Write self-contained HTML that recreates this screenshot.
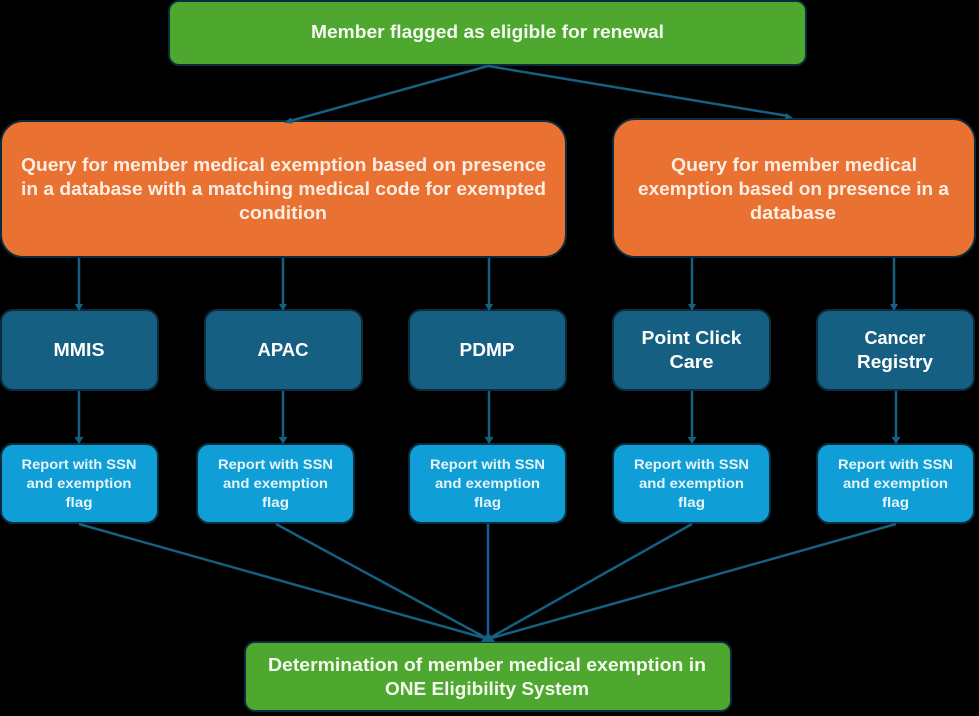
<!DOCTYPE html>
<html>
<head>
<meta charset="utf-8">
<style>
html,body{margin:0;padding:0;background:#000;width:979px;height:716px;overflow:hidden}
svg{display:block}
text{font-family:"Liberation Sans",sans-serif;font-weight:700;fill:#fff;text-anchor:middle}
.o{fill:#fdeee3;font-size:18px}
.d{font-size:18px}
.r{font-size:14px;fill:#e6f5fb}
.g{font-size:18px;fill:#f4faef}
.box{stroke:#0b2c3c;stroke-width:2}
.l{stroke:#156082;stroke-width:2.500;fill:none}
.a{fill:#156082}
</style>
</head>
<body>
<svg width="979" height="716" viewBox="0 0 979 716" xmlns="http://www.w3.org/2000/svg">
<rect width="979" height="716" fill="#000"/>

<!-- top -->
<rect class="box" x="169" y="1" width="637" height="64" rx="10" fill="#4ea72e"/>
<text class="g" x="487.500" y="38" textLength="353" lengthAdjust="spacingAndGlyphs">Member flagged as eligible for renewal</text>

<!-- orange -->
<rect class="box" x="1" y="121" width="565" height="136" rx="22" fill="#e97132"/>
<text class="o" x="283.500" y="171" textLength="525" lengthAdjust="spacingAndGlyphs">Query for member medical exemption based on presence</text>
<text class="o" x="283.500" y="195" textLength="525" lengthAdjust="spacingAndGlyphs">in a database with a matching medical code for exempted</text>
<text class="o" x="283" y="219" textLength="88" lengthAdjust="spacingAndGlyphs">condition</text>

<rect class="box" x="613" y="119" width="362" height="138" rx="22" fill="#e97132"/>
<text class="o" x="794" y="171" textLength="246" lengthAdjust="spacingAndGlyphs">Query for member medical</text>
<text class="o" x="793.500" y="195" textLength="311" lengthAdjust="spacingAndGlyphs">exemption based on presence in a</text>
<text class="o" x="793" y="219" textLength="86" lengthAdjust="spacingAndGlyphs">database</text>

<!-- dark -->
<g fill="#156082">
<rect class="box" x="1" y="310" width="157" height="80" rx="12"/>
<rect class="box" x="205" y="310" width="157" height="80" rx="12"/>
<rect class="box" x="409" y="310" width="157" height="80" rx="12"/>
<rect class="box" x="613" y="310" width="157" height="80" rx="12"/>
<rect class="box" x="817" y="310" width="157" height="80" rx="12"/>
</g>
<text class="d" x="79" y="356" textLength="51" lengthAdjust="spacingAndGlyphs">MMIS</text>
<text class="d" x="283" y="356" textLength="51" lengthAdjust="spacingAndGlyphs">APAC</text>
<text class="d" x="487" y="356" textLength="55" lengthAdjust="spacingAndGlyphs">PDMP</text>
<text class="d" x="691.500" y="344" textLength="100" lengthAdjust="spacingAndGlyphs">Point Click</text>
<text class="d" x="691.500" y="368" textLength="44" lengthAdjust="spacingAndGlyphs">Care</text>
<text class="d" x="895" y="344" textLength="61" lengthAdjust="spacingAndGlyphs">Cancer</text>
<text class="d" x="895" y="368" textLength="76" lengthAdjust="spacingAndGlyphs">Registry</text>

<!-- reports -->
<g fill="#0f9ed5">
<rect class="box" x="1" y="444" width="157" height="79" rx="12"/>
<rect class="box" x="197" y="444" width="157" height="79" rx="12"/>
<rect class="box" x="409" y="444" width="157" height="79" rx="12"/>
<rect class="box" x="613" y="444" width="157" height="79" rx="12"/>
<rect class="box" x="817" y="444" width="157" height="79" rx="12"/>
</g>
<text class="r" x="79" y="469" textLength="115" lengthAdjust="spacingAndGlyphs">Report with SSN</text>
<text class="r" x="79" y="488" textLength="105" lengthAdjust="spacingAndGlyphs">and exemption</text>
<text class="r" x="79" y="507" textLength="27" lengthAdjust="spacingAndGlyphs">flag</text>
<text class="r" x="275.500" y="469" textLength="115" lengthAdjust="spacingAndGlyphs">Report with SSN</text>
<text class="r" x="275.500" y="488" textLength="105" lengthAdjust="spacingAndGlyphs">and exemption</text>
<text class="r" x="275.500" y="507" textLength="27" lengthAdjust="spacingAndGlyphs">flag</text>
<text class="r" x="487.500" y="469" textLength="115" lengthAdjust="spacingAndGlyphs">Report with SSN</text>
<text class="r" x="487.500" y="488" textLength="105" lengthAdjust="spacingAndGlyphs">and exemption</text>
<text class="r" x="487.500" y="507" textLength="27" lengthAdjust="spacingAndGlyphs">flag</text>
<text class="r" x="691.500" y="469" textLength="115" lengthAdjust="spacingAndGlyphs">Report with SSN</text>
<text class="r" x="691.500" y="488" textLength="105" lengthAdjust="spacingAndGlyphs">and exemption</text>
<text class="r" x="691.500" y="507" textLength="27" lengthAdjust="spacingAndGlyphs">flag</text>
<text class="r" x="895.500" y="469" textLength="115" lengthAdjust="spacingAndGlyphs">Report with SSN</text>
<text class="r" x="895.500" y="488" textLength="105" lengthAdjust="spacingAndGlyphs">and exemption</text>
<text class="r" x="895.500" y="507" textLength="27" lengthAdjust="spacingAndGlyphs">flag</text>

<!-- bottom -->
<rect class="box" x="245" y="642" width="486" height="69" rx="10" fill="#4ea72e"/>
<text class="g" x="487" y="671" textLength="438" lengthAdjust="spacingAndGlyphs">Determination of member medical exemption in</text>
<text class="g" x="487" y="695" textLength="204" lengthAdjust="spacingAndGlyphs">ONE Eligibility System</text>

<!-- connectors -->
<path class="l" d="M488 66L290 121M488 66L788 116"/>
<path class="a" d="M284 123L291 117.500L293 123.500Z"/>
<path class="a" d="M793 118L786 113L785 119Z"/>
<path class="l" d="M79 258V306M283 258V306M489 258V306M692 258V306M894 258V306"/>
<path class="l" d="M79 391V440M283 391V440M489 391V440M692 391V440M896 391V440"/>
<g class="a">
<path d="M75 304H83L79 311Z"/><path d="M279 304H287L283 311Z"/><path d="M485 304H493L489 311Z"/><path d="M688 304H696L692 311Z"/><path d="M890 304H898L894 311Z"/>
<path d="M74.500 437H83.500L79 444Z"/><path d="M278.500 437H287.500L283 444Z"/><path d="M484.500 437H493.500L489 444Z"/><path d="M687.500 437H696.500L692 444Z"/><path d="M891.500 437H900.500L896 444Z"/>
</g>
<path class="l" d="M79 524L488 639M276 524L488 639M692 524L488 639M896 524L488 639"/>
<path d="M488 524V639" stroke="#1a5a9c" stroke-width="2.500" fill="none"/>
<path class="a" d="M481 642L488 632L495 642Z"/>
</svg>
</body>
</html>
